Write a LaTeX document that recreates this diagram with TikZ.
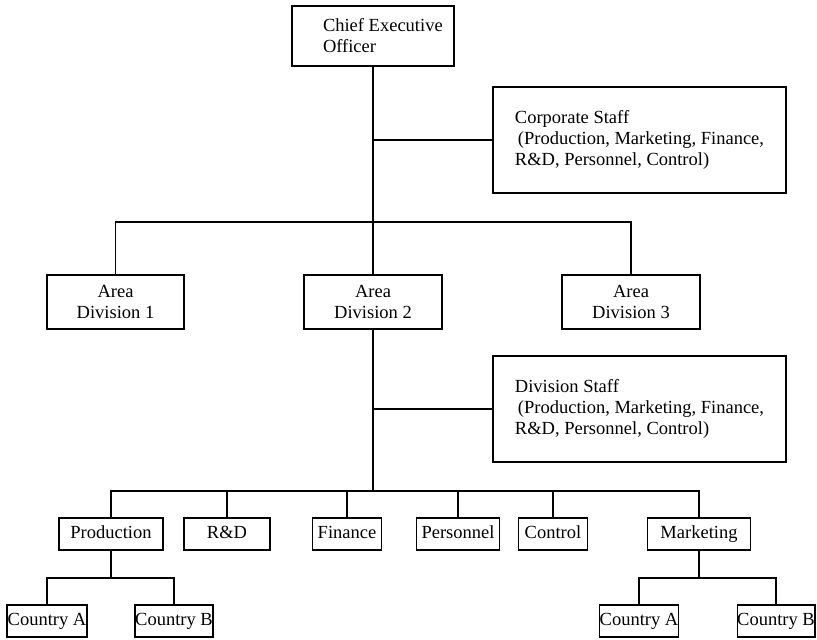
\documentclass[tikz,border=0pt]{standalone}
\usepackage{fontspec}
\setmainfont{Liberation Serif}
\begin{document}
\begin{tikzpicture}[x=1pt,y=-1pt,line width=1.4pt,
  font=\fontsize{18.5}{21}\selectfont,
  orgbox/.style={draw,rectangle,inner sep=2pt,minimum height=32pt},
  unitbox/.style={orgbox,text height=13pt,text depth=4pt},
  areabox/.style={orgbox,align=center,minimum width=138pt,minimum height=54pt},
  staffbox/.style={orgbox,align=left,minimum width=293pt,minimum height=106pt}]
\useasboundingbox (0,0) rectangle (817,640);

% top level
\node[orgbox,minimum width=162pt,minimum height=60pt] (ceo) at (373,36) {};
\node[anchor=west,align=left,inner sep=0pt] (ceotext) at ([xshift=31pt]ceo.west) {Chief Executive\\Officer};
\node[staffbox] (corp) at (639.5,140) {Corporate Staff\\\hspace{3pt}(Production, Marketing, Finance,\\R\&D, Personnel, Control)};

% area divisions
\node[areabox,minimum width=137pt] (ad1) at (115.5,302) {Area\\Division 1};
\node[areabox] (ad2) at (373,302) {Area\\Division 2};
\node[areabox] (ad3) at (631,302) {Area\\Division 3};
\node[staffbox] (div) at (639.5,409) {Division Staff\\\hspace{3pt}(Production, Marketing, Finance,\\R\&D, Personnel, Control)};

% functional units
\node[unitbox,minimum width=104pt] (prod) at (111,534) {Production};
\node[unitbox,minimum width=86pt] (rd) at (227,534) {R\&D};
\node[unitbox,minimum width=69pt] (fin) at (347,534) {Finance};
\node[unitbox,minimum width=83pt] (pers) at (458,534) {Personnel};
\node[unitbox,minimum width=69pt] (ctrl) at (553,534) {Control};
\node[unitbox,minimum width=103pt] (mkt) at (699,534) {Marketing};

% countries
\node[unitbox,minimum width=80pt,inner sep=0pt] (pca) at (47,621) {Country A};
\node[unitbox,minimum width=77pt,inner sep=0pt] (pcb) at (174,621) {Country B};
\node[unitbox,minimum width=79pt,inner sep=0pt] (mca) at (639,621) {Country A};
\node[unitbox,minimum width=77pt,inner sep=0pt] (mcb) at (776,621) {Country B};

\coordinate (areabar) at (373,222);
\coordinate (unitbar) at (373,491);
\coordinate (pbar) at (111,578);
\coordinate (mbar) at (699,578);

\draw (ceo) -- (ad2);
\draw (ceo.south |- corp.west) -- (corp.west);
\draw (ad1.north) |- (areabar) -| (ad3.north);
\draw (ad2) -- (unitbar);
\draw (ad2.south |- div.west) -- (div.west);
\draw (prod.north) |- (unitbar) -| (mkt.north);
\foreach \u in {rd,fin,pers,ctrl}
  \draw (\u.north) -- (\u.north |- unitbar);
\draw (prod) -- (pbar);
\draw (pca.north) |- (pbar) -| (pcb.north);
\draw (mkt) -- (mbar);
\draw (mca.north) |- (mbar) -| (mcb.north);
\end{tikzpicture}
\end{document}
